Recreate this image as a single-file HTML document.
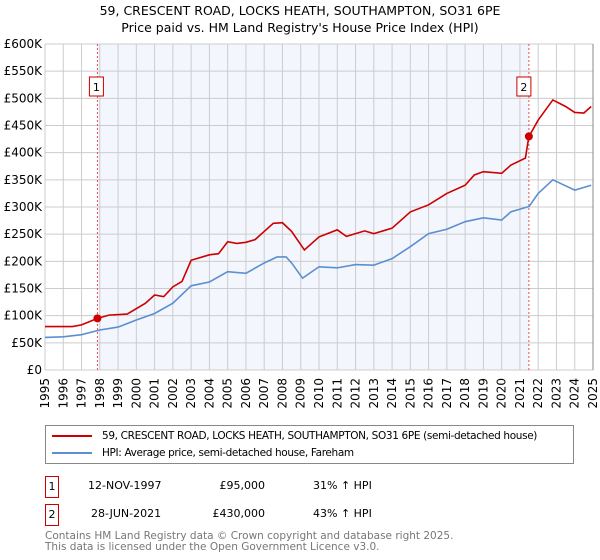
<!DOCTYPE html>
<html><head><meta charset="utf-8"><style>
body{margin:0;width:600px;height:560px;background:#fff;font-family:"DejaVu Sans","Liberation Sans",sans-serif;overflow:hidden;position:relative}
.t{position:absolute;white-space:nowrap;color:#000}
</style></head><body>
<div class="t" style="left:0;width:600px;text-align:center;top:3px;font-size:12.5px">59, CRESCENT ROAD, LOCKS HEATH, SOUTHAMPTON, SO31 6PE</div>
<div class="t" style="left:0;width:600px;text-align:center;top:20px;font-size:12.5px">Price paid vs. HM Land Registry's House Price Index (HPI)</div>
<svg id="c" width="600" height="420" style="position:absolute;left:0;top:0"></svg>
<div style="position:absolute;left:45px;top:425px;width:527px;height:37px;border:1px solid #888;font-size:10.5px;letter-spacing:-0.35px;white-space:nowrap">
<div style="position:absolute;left:6px;top:4px"><span style="display:inline-block;width:40px;height:2px;background:#cc0000;vertical-align:middle;margin-right:10px"></span>59, CRESCENT ROAD, LOCKS HEATH, SOUTHAMPTON, SO31 6PE (semi-detached house)</div>
<div style="position:absolute;left:6px;top:21px"><span style="display:inline-block;width:40px;height:2px;background:#5b8fd0;vertical-align:middle;margin-right:10px"></span>HPI: Average price, semi-detached house, Fareham</div>
</div>
<div style="position:absolute;left:0;top:476px;font-size:11px;width:600px;height:24px">
<div style="position:absolute;left:45px;top:0;width:12px;height:20px;border:1px solid #cc0000;text-align:center;line-height:20px">1</div>
<div class="t" style="left:88px;top:3px">12-NOV-1997</div><div class="t" style="left:200px;width:65px;text-align:right;top:3px">£95,000</div><div class="t" style="left:313px;top:3px">31% ↑ HPI</div></div>
<div style="position:absolute;left:0;top:504px;font-size:11px;width:600px;height:24px">
<div style="position:absolute;left:45px;top:0;width:12px;height:20px;border:1px solid #cc0000;text-align:center;line-height:20px">2</div>
<div class="t" style="left:91px;top:3px">28-JUN-2021</div><div class="t" style="left:200px;width:65px;text-align:right;top:3px">£430,000</div><div class="t" style="left:313px;top:3px">43% ↑ HPI</div></div>
<div class="t" style="left:45px;top:531px;font-size:10.5px;color:#777;line-height:11px">Contains HM Land Registry data © Crown copyright and database right 2025.<br>This data is licensed under the Open Government Licence v3.0.</div>
<script>
const hpiYears=[1995,1996,1997,1998,1999,2000,2001,2002,2003,2004,2005,2006,2007,2007.7,2008.2,2008.5,2009.1,2010,2011,2012,2013,2014,2015,2016,2017,2018,2019,2020,2020.5,2021.5,2022,2022.8,2023.5,2024,2024.9];
const hpiValues=[60,61,65,73.6,79,92,104,123,155,162,181,178,197,208,208,197,169,190,188,194,193,205,227,251,259,273,280,276,291,301,325,350,339,331,340];
const ppYears=[1995,1996.5,1997,1997.87,1998.5,1999.5,2000.5,2001,2001.5,2002,2002.5,2003,2004,2004.5,2005,2005.5,2006,2006.5,2007,2007.5,2008,2008.5,2009.2,2010,2011,2011.5,2012,2012.5,2013,2014,2015,2016,2017,2018,2018.5,2019,2020,2020.5,2021.3,2021.49,2021.7,2022,2022.8,2023.5,2024,2024.5,2024.9];
const ppValues=[80,80,83,95,101,103,123,138,135,153,163,202,212,214,236,233,235,240,255,270,271,255,221,245,258,246,251,256,251,261,291,304,325,340,359,365,362,377,390,430,442,460,497,485,474,473,485];
const saleYears=[1997.87,2021.49];
const saleValues=[95,430];
const yTicks=[0,50,100,150,200,250,300,350,400,450,500,550,600];
const yTickLabels=["£0","£50K","£100K","£150K","£200K","£250K","£300K","£350K","£400K","£450K","£500K","£550K","£600K"];
const xTicks=[1995,1996,1997,1998,1999,2000,2001,2002,2003,2004,2005,2006,2007,2008,2009,2010,2011,2012,2013,2014,2015,2016,2017,2018,2019,2020,2021,2022,2023,2024,2025];
const X0=45,X1=593,Y0=370,Y1=44;
const sx=y=>X0+(y-1995)/30*(X1-X0);
const sy=v=>Y0-v/600*(Y0-Y1);
const svg=document.getElementById('c');const NS='http://www.w3.org/2000/svg';
function mk(t,a){const e=document.createElementNS(NS,t);for(const k in a)e.setAttribute(k,a[k]);svg.appendChild(e);return e;}
let e=mk('rect',{x:sx(saleYears[0]),y:Y1,width:sx(saleYears[1])-sx(saleYears[0]),height:Y0-Y1,fill:'#f3f6fd'});


xTicks.forEach(t=>{const l=mk('line',{x1:sx(t),x2:sx(t),y1:Y1,y2:Y0,stroke:'#ccc','stroke-width':1});


const tx=mk('text',{x:0,y:0,'font-size':12,'text-anchor':'end',transform:`translate(${sx(t)+4},${Y0+8}) rotate(-90)`,'font-family':'DejaVu Sans, sans-serif'});tx.textContent=t;

});
yTicks.forEach((t,i)=>{const l=mk('line',{x1:X0,x2:X1,y1:sy(t),y2:sy(t),stroke:'#ccc','stroke-width':1});


const tx=mk('text',{x:X0-3,y:sy(t)+4,'font-size':12,'text-anchor':'end','font-family':'DejaVu Sans, sans-serif'});tx.textContent=yTickLabels[i];

});
e=mk('line',{x1:X1,x2:X1,y1:Y1,y2:Y0,stroke:'#888','stroke-width':1});


saleYears.forEach((y,i)=>{const l=mk('line',{x1:sx(y),x2:sx(y),y1:Y1,y2:Y0,stroke:'#e05050','stroke-width':1,'stroke-dasharray':'2,2'});


const r=mk('rect',{x:sx(y)-8-(i?4:0),y:77,width:14,height:19,fill:'#fff',stroke:'#cc0000'});


const tx=mk('text',{x:sx(y)-1-(i?4:0),y:91,'font-size':11,'text-anchor':'middle','font-family':'DejaVu Sans, sans-serif'});tx.textContent=i+1;

});
function line(xs,vs,c,n){const p=mk('polyline',{points:xs.map((x,i)=>sx(x)+','+sy(vs[i])).join(' '),fill:'none',stroke:c,'stroke-width':1.6});

}
line(hpiYears,hpiValues,'#5b8fd0','hpi-line');
line(ppYears,ppValues,'#cc0000','property-price-line');
saleYears.forEach((y,i)=>{const c=mk('circle',{cx:sx(y),cy:sy(saleValues[i]),r:4,fill:'#cc0000'});

});
</script>
</body></html>
